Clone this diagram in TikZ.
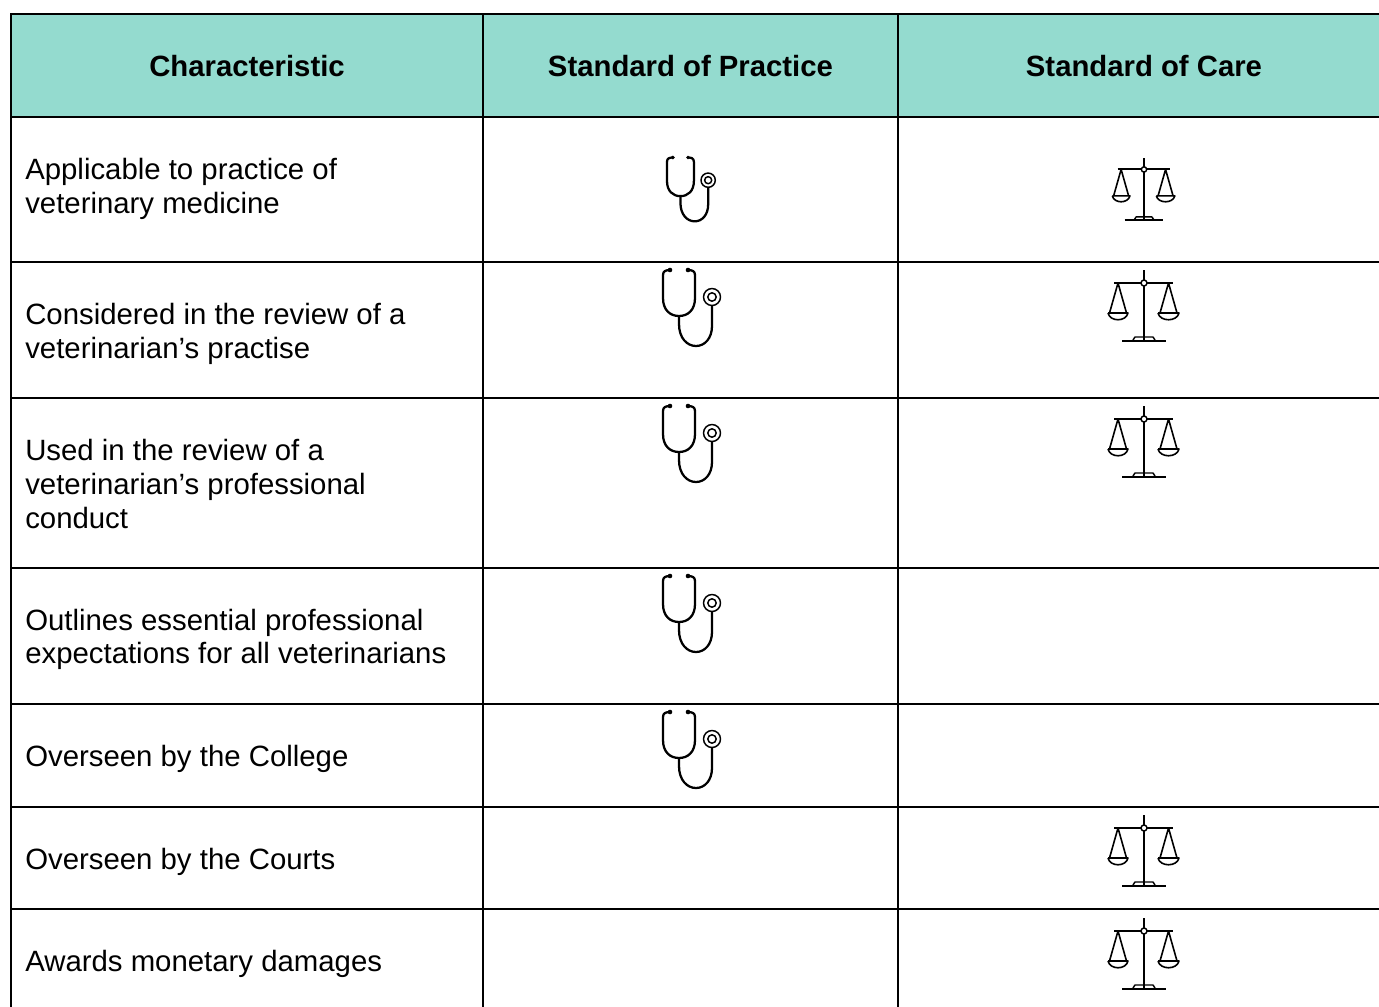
\documentclass[tikz,border=0pt]{standalone}
\usepackage{fontspec}
\setmainfont{Liberation Sans}
\definecolor{hdr}{HTML}{94DBCF}
\tikzset{
  x=0.75pt,y=-0.75pt,
  grid/.style={line width=1.5pt,black},
  cell/.style={anchor=west,inner sep=0pt,align=left,font=\fontsize{22.02}{25.3}\selectfont},
  head/.style={anchor=center,inner sep=0pt,font=\fontsize{21.98}{25.3}\selectfont\bfseries},
  steth/.pic={
    \begin{scope}[line width=1.7pt,line cap=round,line join=round,scale=#1]
    \draw (7,0) .. controls (3,0) and (0,1) .. (0,5) -- (0,28) .. controls (0,40) and (7,46) .. (16,46)
      .. controls (25,46) and (32,40) .. (32,28) -- (32,5) .. controls (32,1) and (29,0) .. (25,0);
    \fill (7,0) circle (2.3);
    \fill (25,0) circle (2.3);
    \draw (16,46) -- (16,54) .. controls (16,68) and (24,76) .. (33,76) .. controls (42,76) and (49,68) .. (49,56) -- (49,36);
    \draw[line width=1.1pt] (49,27) circle (8.5);
    \draw[line width=1.1pt] (49,27) circle (4.2);
    \end{scope}
  },
  steth/.default=1,
  scales/.pic={
    \begin{scope}[line width=1.5pt,line join=round,scale=#1]
    \draw (0,0) -- (0,71);
    \draw (-30,13) -- (29,13);
    \draw[fill=white,line width=1.1pt] (0,13) circle (3);
    \draw (-22,71) -- (22,71);
    \draw[line width=1.1pt] (-11,70) -- (-9,67) -- (9,67) -- (11,70);
    \draw[line width=1.2pt] (-26,13) -- (-34.5,43) (-26,13) -- (-17.5,43);
    \draw[line width=1.2pt] (-36,43) -- (-16,43) .. controls (-18,52) and (-34,52) .. (-36,43);
    \draw[line width=1.2pt] (24.5,13) -- (16,43) (24.5,13) -- (33,43);
    \draw[line width=1.2pt] (14,43) -- (35,43) .. controls (33,52) and (16,52) .. (14,43);
    \end{scope}
  }
}
\begin{document}
\begin{tikzpicture}
\useasboundingbox (0,0) rectangle (1379,1007);
\fill[hdr] (11,14) rectangle (1379,117);
\foreach \yy in {14,117,262,398,568,704,807,909} \draw[grid] (10,\yy) -- (1379,\yy);
\foreach \xx in {11,483,898} \draw[grid] (\xx,13) -- (\xx,1007);

\node[head] (h1) at (247,66) {Characteristic};
\node[head] (h2) at (690.5,66) {Standard of Practice};
\node[head] (h3) at (1144,66) {Standard of Care};

\node[cell] (r1) at (25,189) {Applicable to practice of\\veterinary medicine};
\node[cell] (r2) at (25,334) {Considered in the review of a\\veterinarian’s practise};
\node[cell] (r3) at (25,484) {Used in the review of a\\veterinarian’s professional\\conduct};
\node[cell] (r4) at (25,639.5) {Outlines essential professional\\expectations for all veterinarians};
\node[cell] (r5) at (25,759) {Overseen by the College};
\node[cell] (r6) at (25,862) {Overseen by the Courts};
\node[cell] (r7) at (25,964) {Awards monetary damages};

\pic at (667,157.5) {steth=0.84};
\pic at (663,270) {steth=1};
\pic at (663,406) {steth=1};
\pic at (663,576) {steth=1};
\pic at (663,712) {steth=1};

\pic at (1144,158) {scales=0.88};
\pic at (1144,270) {scales=1};
\pic at (1144,406) {scales=1};
\pic at (1144,815) {scales=1};
\pic at (1144,918) {scales=1};
\end{tikzpicture}
\end{document}
